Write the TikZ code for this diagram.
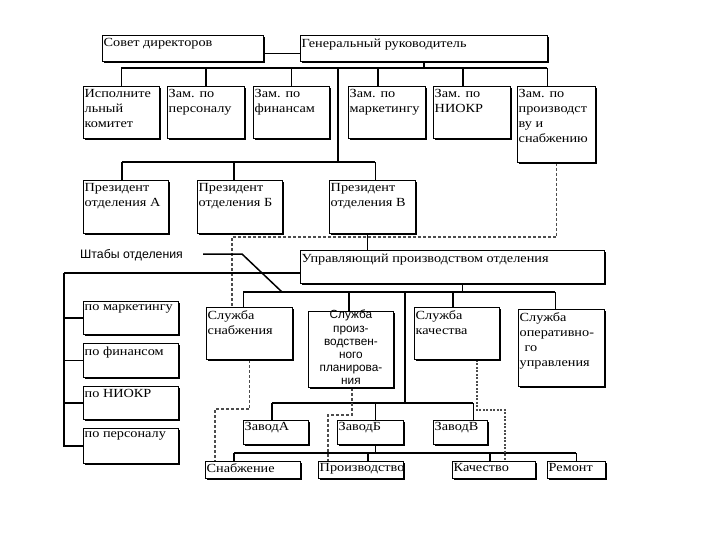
\documentclass[tikz,border=0pt]{standalone}
\usepackage{fontspec}
\setmainfont{Liberation Serif}[FakeStretch=1.15]
\newfontfamily\sansf{Liberation Sans}
\usetikzlibrary{shadows,backgrounds}
\tikzset{
  box/.style={draw, line width=0.9pt, fill=white, inner sep=0pt, anchor=north west,
    drop shadow={shadow xshift=1.3pt, shadow yshift=-1.3pt, fill=black, opacity=1}},
  lbl/.style={anchor=north west, inner xsep=1.5pt, inner ysep=3.5pt, align=left,
    font=\fontsize{12.4}{15}\selectfont},
  conn/.style={line width=1.5pt},
  dsh/.style={line width=1.1pt, draw=black!70, dash pattern=on 3pt off 2pt},
}
\newcommand\bx[7][]{\node[box, minimum width={(#5-#3)*1pt}, minimum height={(#6-#4)*1pt},
  label={[lbl,#1]north west:{#7}}] (#2) at (#3,#4) {};}
\begin{document}
\begin{tikzpicture}[x=1pt,y=-1pt]
\useasboundingbox (0,0) rectangle (720,540);
% boxes
\bx{sovet}{102}{35}{263}{61}{Совет директоров}
\bx{gen}{300}{35}{547}{61}{Генеральный руководитель}
\bx{isp}{83}{86}{159}{138}{Исполните\\льный\\комитет}
\bx{zper}{167}{86}{244}{138}{Зам. по\\персоналу}
\bx{zfin}{253}{86}{329}{138}{Зам. по\\финансам}
\bx{zmar}{348}{86}{425}{138}{Зам. по\\маркетингу}
\bx{zni}{433}{86}{510}{138}{Зам. по\\НИОКР}
\bx{zps}{517}{86}{595}{162}{Зам. по\\производст\\ву и\\снабжению}
\bx{pra}{83}{180}{168}{233}{Президент\\отделения А}
\bx{prb}{197}{180}{282}{233}{Президент\\отделения Б}
\bx{prv}{329}{180}{415}{233}{Президент\\отделения В}
\bx{upr}{300}{250}{604}{283}{Управляющий производством отделения}
\bx{st1}{83}{301}{178}{334}{по маркетингу}
\bx{st2}{83}{343}{178}{377}{по финансом}
\bx{st3}{83}{386}{178}{419}{по НИОКР}
\bx{st4}{83}{428}{178}{463}{по персоналу}
\bx{sls}{206}{307}{292}{359}{Служба\\снабжения}
\node[box, minimum width=85pt, minimum height=76pt] (slp) at (308,311) {};
\node[font=\sansf\fontsize{11.8}{13.2}\selectfont, align=center, anchor=north, inner sep=0pt]
  (slpt) at ([yshift=1pt]slp.north) {Служба\\произ-\\водствен-\\ного\\планирова-\\ния};
\bx{slk}{414}{307}{499}{359}{Служба\\качества}
\bx{slo}{518}{309}{604}{386}{Служба\\оперативно-\\\hspace{5pt}го\\управления}
\bx[inner ysep=2.5pt]{za}{243}{420}{308}{444}{ЗаводА}
\bx[inner ysep=2.5pt]{zb}{337}{420}{403}{444}{ЗаводБ}
\bx[inner ysep=2.5pt]{zv}{433}{420}{487}{444}{ЗаводВ}
\bx[inner ysep=2pt]{bsn}{205}{461}{300}{478}{Снабжение}
\bx[inner ysep=2pt]{bpr}{318}{461}{403}{478}{Производство}
\bx[inner ysep=2pt]{bka}{452}{461}{535}{478}{Качество}
\bx[inner ysep=2pt]{bre}{547}{461}{605}{478}{Ремонт}
\node[font=\sansf\fontsize{12.3}{14}\selectfont, anchor=west, inner sep=0pt] (sht) at (80,255) {Штабы отделения};
% coordinates
\coordinate (b1) at (0,68);
\coordinate (tr) at (338,68);
\coordinate (b2) at (0,162);
\coordinate (d1) at (232,237);
\coordinate (sh0) at (203,254);
\coordinate (sh1) at (242,254);
\coordinate (sh2) at (282,292);
\coordinate (stc) at (64,273);
\coordinate (b3) at (0,292);
\coordinate (tr2) at (405,292);
\coordinate (b4) at (0,403);
\coordinate (b5) at (0,453);
\coordinate (d2) at (215,409);
\coordinate (d3) at (328,415);
\coordinate (d4) at (505,410);
\begin{scope}[on background layer]
\draw[conn] ([yshift=-5pt]sovet.east) -- ([yshift=-5pt]sovet.east -| gen.west);
\draw[conn] (gen.south) -- (gen.south |- b1);
\draw[conn] (isp.north |- b1) -- ([xshift=-9pt]zps.north |- b1);
\foreach \n in {isp,zper,zfin} \draw[conn] (\n.north) -- (\n.north |- b1);
\foreach \n in {zmar,zni,zps} \draw[conn] ([xshift=-9pt]\n.north) -- ([xshift=-9pt]\n.north |- b1);
\draw[conn] (tr) -- (tr |- b2);
\draw[conn] ([xshift=-4pt]pra.north |- b2) -- ([xshift=3pt]prv.north |- b2);
\draw[conn] ([xshift=-4pt]pra.north) -- ([xshift=-4pt]pra.north |- b2);
\draw[conn] ([xshift=-6pt]prb.north) -- ([xshift=-6pt]prb.north |- b2);
\draw[conn] ([xshift=3pt]prv.north) -- ([xshift=3pt]prv.north |- b2);
\draw[conn] ([xshift=-5pt]prv.south) -- ([xshift=-5pt]prv.south |- upr.north);
\draw[dsh] (zps.south) |- (d1) -- (d1 |- sls.north);
\draw[conn] (sh0) -- (sh1) -- (sh2);
\draw[conn] (stc) -- (stc -| upr.west);
\draw[conn] (stc) |- (st4.west);
\foreach \n in {st1,st2,st3} \draw[conn] (\n.west) -- (\n.west -| stc);
\draw[conn] ([xshift=10pt]upr.south) -- ([xshift=10pt]upr.south |- b3);
\draw[conn] ([xshift=-6pt]sls.north |- b3) -- ([xshift=-6pt]slo.north |- b3);
\draw[conn] ([xshift=-6pt]sls.north) -- ([xshift=-6pt]sls.north |- b3);
\draw[conn] ([xshift=-2pt]slp.north) -- ([xshift=-2pt]slp.north |- b3);
\draw[conn] ([xshift=-4pt]slk.north) -- ([xshift=-4pt]slk.north |- b3);
\draw[conn] ([xshift=-6pt]slo.north) -- ([xshift=-6pt]slo.north |- b3);
\draw[conn] (tr2) -- (tr2 |- b4);
\draw[conn] ([xshift=-4pt]za.north |- b4) -- ([xshift=13pt]zv.north |- b4);
\draw[conn] ([xshift=-4pt]za.north) -- ([xshift=-4pt]za.north |- b4);
\draw[conn] ([xshift=5pt]zb.north) -- ([xshift=5pt]zb.north |- b4);
\draw[conn] ([xshift=13pt]zv.north) -- ([xshift=13pt]zv.north |- b4);
\draw[conn] ([xshift=5pt]zb.south) -- ([xshift=5pt]zb.south |- b5);
\draw[conn] ([xshift=-19pt]bsn.north |- b5) -- (bre.north |- b5);
\draw[conn] ([xshift=-19pt]bsn.north) -- ([xshift=-19pt]bsn.north |- b5);
\draw[conn] ([xshift=7pt]bpr.north) -- ([xshift=7pt]bpr.north |- b5);
\draw[conn] ([xshift=-4pt]bka.north) -- ([xshift=-4pt]bka.north |- b5);
\draw[conn] (bre.north) -- (bre.north |- b5);
\draw[dsh] (sls.south) |- (d2) -- (d2 |- bsn.north);
\draw[dsh] ([xshift=1pt]slp.south) |- (d3) -- (d3 |- bpr.north);
\draw[dsh, line width=1.4pt, dash pattern=on 2pt off 1.5pt] ([xshift=20pt]slk.south) |- (d4) -- (d4 |- bka.north);
\end{scope}
\end{tikzpicture}
\end{document}
